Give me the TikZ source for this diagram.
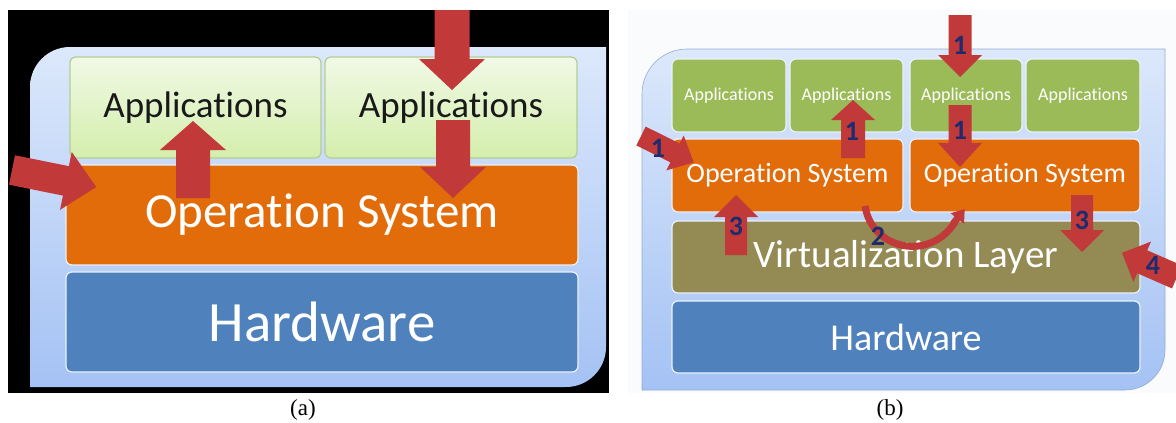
\documentclass[tikz,border=0pt]{standalone}
\usepackage{fontspec}
\setmainfont{Carlito}[Ligatures=CommonOff]
\newfontfamily\capfont{Liberation Serif}
\definecolor{arrowred}{RGB}{194,57,58}
\definecolor{navy}{RGB}{28,44,110}
\definecolor{osorange}{RGB}{227,108,10}
\definecolor{hwblue}{RGB}{79,129,189}
\definecolor{appgreen}{RGB}{155,187,89}
\definecolor{virtolive}{RGB}{148,138,84}
\definecolor{paneltop}{RGB}{220,232,251}
\definecolor{panelbot}{RGB}{164,194,244}
\definecolor{paneledge}{RGB}{150,172,210}
\definecolor{lapptop}{RGB}{240,249,229}
\definecolor{lappbot}{RGB}{212,238,172}
\definecolor{lappedge}{RGB}{180,205,150}
\definecolor{boxedge}{RGB}{235,241,250}
\definecolor{faintbg}{RGB}{250,251,252}
\newcommand{\blockarrow}[7]{%
  \begin{scope}[shift={(#1,#2)},rotate=#3]
    \fill[arrowred] (0,{-(#5)/2}) -- ({#4-#7},{-(#5)/2}) -- ({#4-#7},{-(#6)/2}) -- (#4,0)
      -- ({#4-#7},{(#6)/2}) -- ({#4-#7},{(#5)/2}) -- (0,{(#5)/2}) -- cycle;
  \end{scope}}
\begin{document}
\begin{tikzpicture}[x=1pt,y=-1pt,
  box/.style={rectangle, rounded corners=6pt, inner sep=0pt, text=white, draw=boxedge, line width=1.2pt},
  lapp/.style={box, top color=lapptop, bottom color=lappbot, draw=lappedge, text=black!90,
    font=\fontsize{37}{40}\selectfont, minimum height=101pt},
  rapp/.style={box, fill=appgreen, font=\fontsize{18}{20}\selectfont, minimum height=73pt},
  ros/.style={box, fill=osorange, font=\fontsize{28}{32}\selectfont, minimum height=73pt},
  num/.style={text=navy, font=\bfseries\fontsize{28}{30}\selectfont, inner sep=0pt},
  capt/.style={font=\capfont\fontsize{23}{26}\selectfont, inner sep=0pt}]
\useasboundingbox (0,0) rectangle (1176,423);
\fill[white] (0,0) rectangle (1176,423);
% ---------- (a) ----------
\fill[black] (8,10) rectangle (609,393);
\shade[top color=paneltop,bottom color=panelbot] (30,387) -- (30,87)
  arc[start angle=180,end angle=270,radius=40] -- (606,47) -- (606,347)
  arc[start angle=0,end angle=90,radius=40] -- cycle;
\node[lapp, minimum width=251pt] (la1) at (195.5,107.5) {Applications};
\node[lapp, minimum width=252pt] (la2) at (451,107.5) {Applications};
\node[box, fill=osorange, font=\fontsize{49}{52}\selectfont, minimum width=512pt, minimum height=100pt] (los) at (322,215) {Operation System};
\node[box, fill=hwblue, font=\fontsize{57}{60}\selectfont, minimum width=512pt, minimum height=100pt] (lhw) at (322,322) {Hardware};
\blockarrow{452}{10}{-90}{80}{35}{66}{31}
\blockarrow{453}{120}{-90}{78}{34}{66}{31}
\blockarrow{193}{198}{90}{77}{34}{66}{29}
\blockarrow{12}{170}{-11.4}{86}{30}{59}{31}
\node[capt] (capa) at (303,410) {(a)};
% ---------- (b) ----------
\fill[faintbg] (628,10) rectangle (1176,393);
\shade[top color=paneltop,bottom color=panelbot,draw=paneledge,line width=0.6pt] (642,390) -- (642,94)
  arc[start angle=180,end angle=270,radius=45] -- (1165,49) -- (1165,350)
  arc[start angle=0,end angle=90,radius=40] -- cycle;
\node[rapp, minimum width=114pt] (ra1) at (729,95.5) {Applications};
\node[rapp, minimum width=113pt] (ra2) at (846.5,95.5) {Applications};
\node[rapp, minimum width=112pt] (ra3) at (966,95.5) {Applications};
\node[rapp, minimum width=114pt] (ra4) at (1083,95.5) {Applications};
\node[ros, minimum width=231pt] (ros1) at (787.5,175.5) {Operation System};
\node[ros, minimum width=230pt] (ros2) at (1025,175.5) {Operation System};
\node[box, fill=virtolive, font=\fontsize{39}{42}\selectfont, minimum width=468pt, minimum height=72pt] (rvl) at (906,257) {Virtualization Layer};
\node[box, fill=hwblue, font=\fontsize{38}{41}\selectfont, minimum width=468pt, minimum height=72pt] (rhw) at (906,337) {Hardware};
\blockarrow{960}{15}{-90}{62}{23}{44}{22}
\blockarrow{960}{105}{-90}{62}{23}{44}{24}
\blockarrow{853}{158}{90}{58}{24}{44}{20}
\blockarrow{641}{136}{-26.5}{59}{21}{39}{21}
\blockarrow{736}{255}{90}{60}{22}{44}{22}
\blockarrow{1082}{195}{-90}{57}{22}{44}{22}
\blockarrow{1177}{277}{156.3}{60}{25}{44}{22}
\draw[arrowred, line width=7pt] (865,206) .. controls (872,250) and (930,262) .. (955,222);
\blockarrow{953}{224}{52}{19}{7}{17}{12}
\node[num] (n1a) at (960,45) {1};
\node[num] (n1b) at (960,130) {1};
\node[num] (n1c) at (852,131) {1};
\node[num] (n1d) at (658,148) {1};
\node[num] (n3a) at (736,226) {3};
\node[num] (n2) at (878,236) {2};
\node[num] (n3b) at (1082,220) {3};
\node[num] (n4) at (1153,265) {4};
\node[capt] (capb) at (890,410) {(b)};
\end{tikzpicture}
\end{document}
